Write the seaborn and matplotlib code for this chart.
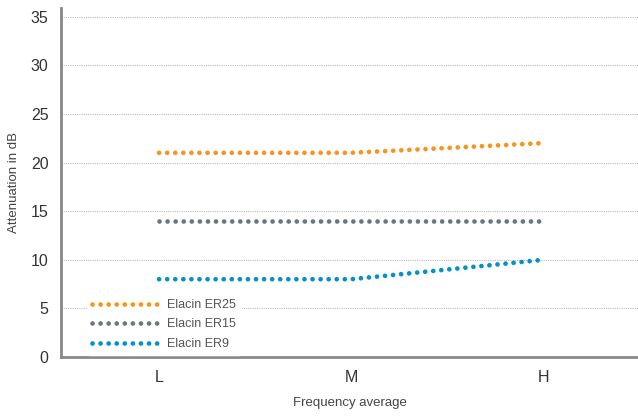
import pandas as pd
import seaborn as sns
import matplotlib.pyplot as plt

freq = ["L", "M", "H"]
er25 = [21, 21, 22]
er15 = [14, 14, 14]
er9 = [8, 8, 10]
series_names = ["Elacin ER25", "Elacin ER15", "Elacin ER9"]
colors = ["#F7941D", "#6B7780", "#0092C8"]


def main():
    sns.set_style("white")
    plt.rcParams["font.family"] = ["Liberation Sans", "DejaVu Sans"]

    rows = []
    for name, vals in zip(series_names, [er25, er15, er9]):
        for f, v in zip(freq, vals):
            rows.append({"freq": f, "value": v, "series": name})
    df = pd.DataFrame(rows)

    fig = plt.figure(figsize=(6.38, 4.16), dpi=100)
    ax = fig.add_axes([0.0956, 0.1418, 0.9044, 0.8392])

    sns.lineplot(data=df, x="freq", y="value", hue="series", hue_order=series_names,
                 palette=colors, sort=False, ax=ax, linewidth=3.4,
                 linestyle=(0, (0.01, 1.7)), dash_capstyle="round")

    for line in ax.get_lines():
        line.set_dash_capstyle("round")

    ax.set_xlim(-0.51, 2.49)
    ax.set_ylim(0, 35.9)
    ax.set_yticks(range(0, 36, 5))
    ax.yaxis.grid(True, color="#BBBBBB", linestyle=(0, (1, 1)), linewidth=0.8)
    ax.set_axisbelow(True)

    for side in ["top", "right"]:
        ax.spines[side].set_visible(False)
    for side in ["left", "bottom"]:
        ax.spines[side].set_color("#888888")
        ax.spines[side].set_linewidth(2)

    ax.tick_params(axis="both", length=4, width=1, color="#888888", labelsize=11.5,
                   labelcolor="#333333", direction="out", pad=5)
    ax.set_xlabel("Frequency average", fontsize=9.5, color="#444444", labelpad=9)
    ax.set_ylabel("Attenuation in dB", fontsize=9.5, color="#444444", labelpad=8)

    leg = ax.legend(loc="lower left", bbox_to_anchor=(0.035, -0.012), frameon=True,
                    fontsize=9, handlelength=5.5, handletextpad=0.5,
                    labelspacing=0.6, borderpad=0.4)
    leg.get_frame().set_edgecolor("white")
    leg.get_frame().set_facecolor("white")
    leg.get_frame().set_alpha(1)
    for t in leg.get_texts():
        t.set_color("#555555")
    for h in leg.get_lines():
        h.set_dash_capstyle("round")

    fig.savefig("out.png", dpi=100)


if __name__ == "__main__":
    main()
